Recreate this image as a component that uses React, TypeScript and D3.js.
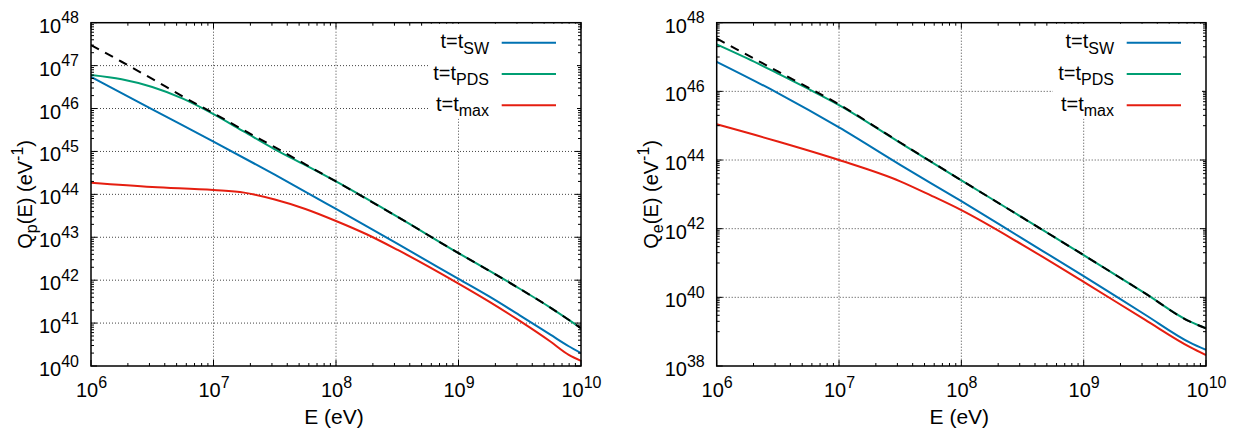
import React from "react";
import * as d3 from "d3";

const FONT = "'Liberation Sans', Arial, Helvetica, sans-serif";

// ---------- DATA (log10 of E in eV, log10 of Q in eV^-1) ----------
// Left panel: protons Q_p(E)
const pSW_logE = [6, 6.5, 7, 7.5, 8, 8.5, 9, 9.25, 9.5, 9.75, 9.9, 10];
const pSW_logQ = [46.74, 45.98, 45.23, 44.46, 43.66, 42.85, 42.03, 41.62, 41.18, 40.73, 40.46, 40.3];
const pPDS_logE = [6, 6.25, 6.5, 6.75, 7, 7.25, 7.5, 7.75, 8, 8.5, 9, 9.25, 9.5, 9.75, 10];
const pPDS_logQ = [46.78, 46.68, 46.5, 46.23, 45.87, 45.46, 45.05, 44.68, 44.3, 43.48, 42.63, 42.22, 41.8, 41.36, 40.88];
const pMAX_logE = [6, 6.5, 7, 7.25, 7.5, 7.75, 8, 8.25, 8.5, 9, 9.25, 9.5, 9.75, 9.9, 10];
const pMAX_logQ = [44.27, 44.17, 44.1, 44.04, 43.88, 43.66, 43.38, 43.07, 42.71, 41.92, 41.5, 41.05, 40.57, 40.26, 40.12];
const pREF_logE = [6, 6.25, 6.5, 6.75, 7, 7.25, 7.5, 7.75, 8, 8.5, 9, 9.25, 9.5, 9.75, 10];
const pREF_logQ = [47.48, 47.09, 46.69, 46.28, 45.89, 45.49, 45.1, 44.7, 44.3, 43.48, 42.63, 42.22, 41.8, 41.36, 40.88];

// Right panel: electrons Q_e(E)
const eSW_logE = [6, 6.5, 7, 7.5, 8, 8.5, 9, 9.5, 9.87, 10];
const eSW_logQ = [46.86, 45.95, 44.95, 43.86, 42.8, 41.71, 40.62, 39.5, 38.68, 38.47];
const ePDS_logE = [6, 6.25, 6.5, 6.75, 7, 7.5, 8, 8.5, 9, 9.5, 9.87, 10];
const ePDS_logQ = [47.37, 46.96, 46.52, 46.07, 45.6, 44.5, 43.41, 42.32, 41.23, 40.12, 39.29, 39.1];
const eMAX_logE = [6, 6.5, 7, 7.5, 7.75, 8, 8.5, 9, 9.5, 9.87, 10];
const eMAX_logQ = [45.04, 44.54, 44.0, 43.38, 42.97, 42.54, 41.53, 40.45, 39.35, 38.55, 38.32];
const eREF_logE = [6, 6.5, 7, 7.5, 8, 8.5, 9, 9.5, 9.87, 10];
const eREF_logQ = [47.54, 46.58, 45.62, 44.51, 43.41, 42.32, 41.23, 40.12, 39.29, 39.1];

const xTickExps = [6, 7, 8, 9, 10];
const pYTickExps = [40, 41, 42, 43, 44, 45, 46, 47, 48];
const eYTickExps = [38, 40, 42, 44, 46, 48];

const seriesLabels = ["SW", "PDS", "max"];
const seriesColors = ["#0072b2", "#009e73", "#e51e10"];

type Series = { logE: number[]; logQ: number[]; color: string; dashed?: boolean };

type PanelProps = {
  x0: number;
  x1: number;
  y0: number;
  y1: number;
  yMinExp: number;
  yMaxExp: number;
  yTickExps: number[];
  yMinorExps: number[];
  series: Series[];
  sub: string;
  id: string;
};

const fs = 20;
const supFs = 16;
const labFs = 20;

function Panel(p: PanelProps) {
  const xs = d3.scaleLog().domain([1e6, 1e10]).range([p.x0, p.x1]);
  const ys = d3.scaleLog().domain([Math.pow(10, p.yMinExp), Math.pow(10, p.yMaxExp)]).range([p.y1, p.y0]);
  const line = d3
    .line<[number, number]>()
    .x((d) => xs(Math.pow(10, d[0])))
    .y((d) => ys(Math.pow(10, d[1])))
    .curve(d3.curveMonotoneX);

  const xMinor: number[] = [];
  for (let d = 6; d < 10; d++) for (let k = 2; k <= 9; k++) xMinor.push(k * Math.pow(10, d));

  const majLen = 6;
  const minLen = 3;
  const cx = (p.x0 + p.x1) / 2;
  const cy = (p.y0 + p.y1) / 2;

  const legendX = p.x1 - 92;
  const legendY = [p.y0 + 20, p.y0 + 51.3, p.y0 + 82.6];

  return (
    <g>
      <defs>
        <clipPath id={"clip" + p.id}>
          <rect x={p.x0} y={p.y0} width={p.x1 - p.x0} height={p.y1 - p.y0} />
        </clipPath>
      </defs>
      <g stroke="#444" strokeWidth={1} strokeDasharray="1,2">
        {xTickExps.slice(1, -1).map((e) => (
          <line key={"gx" + e} x1={xs(Math.pow(10, e))} x2={xs(Math.pow(10, e))} y1={p.y0} y2={p.y1} />
        ))}
        {p.yTickExps.slice(1, -1).map((e) => (
          <line key={"gy" + e} x1={p.x0} x2={p.x1} y1={ys(Math.pow(10, e))} y2={ys(Math.pow(10, e))} />
        ))}
      </g>
      <g clipPath={`url(#clip${p.id})`} fill="none">
        {p.series.map((s, i) => (
          <path
            key={i}
            d={line(s.logE.map((e, j) => [e, s.logQ[j]] as [number, number])) || ""}
            stroke={s.color}
            strokeWidth={2}
            strokeDasharray={s.dashed ? "9,7" : undefined}
          />
        ))}
      </g>
      <g stroke="#000" strokeWidth={1}>
        {xTickExps.map((e) => {
          const x = xs(Math.pow(10, e));
          return (
            <g key={"xt" + e}>
              <line x1={x} x2={x} y1={p.y1} y2={p.y1 - majLen} />
              <line x1={x} x2={x} y1={p.y0} y2={p.y0 + majLen} />
            </g>
          );
        })}
        {xMinor.map((v, i) => {
          const x = xs(v);
          return (
            <g key={"xm" + i}>
              <line x1={x} x2={x} y1={p.y1} y2={p.y1 - minLen} />
              <line x1={x} x2={x} y1={p.y0} y2={p.y0 + minLen} />
            </g>
          );
        })}
        {p.yTickExps.map((e) => {
          const y = ys(Math.pow(10, e));
          return (
            <g key={"yt" + e}>
              <line x1={p.x0} x2={p.x0 + majLen} y1={y} y2={y} />
              <line x1={p.x1} x2={p.x1 - majLen} y1={y} y2={y} />
            </g>
          );
        })}
        {p.yMinorExps.map((e, i) => {
          const y = ys(Math.pow(10, e));
          return (
            <g key={"ym" + i}>
              <line x1={p.x0} x2={p.x0 + minLen} y1={y} y2={y} />
              <line x1={p.x1} x2={p.x1 - minLen} y1={y} y2={y} />
            </g>
          );
        })}
      </g>
      <rect x={legendX - 61} y={p.y0 + 1} width={p.x1 - 4 - (legendX - 61)} height={95} fill="#fff" />
      {seriesLabels.map((lab, i) => (
        <g key={"lg" + i}>
          <text x={legendX} y={legendY[i] + 5.5} textAnchor="end" fontFamily={FONT} fontSize={fs} fill="#000">
            t=t
            <tspan dy={5.5} fontSize={supFs}>
              {lab}
            </tspan>
          </text>
          <line x1={legendX + 12.7} x2={legendX + 67} y1={legendY[i]} y2={legendY[i]} stroke={seriesColors[i]} strokeWidth={2} />
        </g>
      ))}
      <rect x={p.x0} y={p.y0} width={p.x1 - p.x0} height={p.y1 - p.y0} fill="none" stroke="#000" strokeWidth={1.5} />
      {xTickExps.map((e) => (
        <text key={"xl" + e} x={xs(Math.pow(10, e)) + 0.5} y={p.y1 + 30.7} textAnchor="middle" fontFamily={FONT} fontSize={fs} fill="#000">
          10
          <tspan dy={-9} fontSize={supFs}>
            {e}
          </tspan>
        </text>
      ))}
      {p.yTickExps.map((e) => (
        <text key={"yl" + e} x={p.x0 - 12} y={ys(Math.pow(10, e)) + 10} textAnchor="end" fontFamily={FONT} fontSize={fs} fill="#000">
          10
          <tspan dy={-9.5} fontSize={supFs}>
            {e}
          </tspan>
        </text>
      ))}
      <text x={cx - 2} y={p.y1 + 58} textAnchor="middle" fontFamily={FONT} fontSize={21} fill="#000">
        E (eV)
      </text>
      <text transform={`translate(${p.x0 - 59},${cy}) rotate(-90)`} textAnchor="middle" fontFamily={FONT} fontSize={labFs} fill="#000">
        Q
        <tspan dy={5} fontSize={supFs}>
          {p.sub}
        </tspan>
        <tspan dy={-5}>(E) (eV</tspan>
        <tspan dy={-9} fontSize={supFs}>
          -1
        </tspan>
        <tspan dy={9}>)</tspan>
      </text>
    </g>
  );
}

export default function App() {
  const pMinor: number[] = [];
  for (let d = 40; d < 48; d++) for (let k = 2; k <= 9; k++) pMinor.push(d + Math.log10(k));
  const eMinor: number[] = [];
  for (let d = 39; d < 48; d += 2) for (let k = 1; k <= 9; k++) eMinor.push(d + Math.log10(k));

  const pSeries: Series[] = [
    { logE: pSW_logE, logQ: pSW_logQ, color: seriesColors[0] },
    { logE: pPDS_logE, logQ: pPDS_logQ, color: seriesColors[1] },
    { logE: pMAX_logE, logQ: pMAX_logQ, color: seriesColors[2] },
    { logE: pREF_logE, logQ: pREF_logQ, color: "#000", dashed: true },
  ];
  const eSeries: Series[] = [
    { logE: eSW_logE, logQ: eSW_logQ, color: seriesColors[0] },
    { logE: ePDS_logE, logQ: ePDS_logQ, color: seriesColors[1] },
    { logE: eMAX_logE, logQ: eMAX_logQ, color: seriesColors[2] },
    { logE: eREF_logE, logQ: eREF_logQ, color: "#000", dashed: true },
  ];

  return (
    <div style={{ position: "absolute", left: 0, top: 0 }}>
      <svg width={1233} height={430} style={{ display: "block", background: "#fff" }}>
        <Panel
          id="p"
          x0={91}
          x1={581}
          y0={22.7}
          y1={366}
          yMinExp={40}
          yMaxExp={48}
          yTickExps={pYTickExps}
          yMinorExps={pMinor}
          series={pSeries}
          sub="p"
        />
        <Panel
          id="e"
          x0={716.7}
          x1={1206}
          y0={22.7}
          y1={366}
          yMinExp={38}
          yMaxExp={48}
          yTickExps={eYTickExps}
          yMinorExps={eMinor}
          series={eSeries}
          sub="e"
        />
      </svg>
    </div>
  );
}
